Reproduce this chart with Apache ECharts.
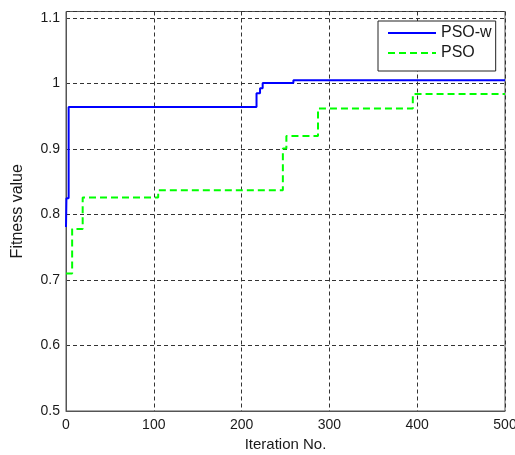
<!DOCTYPE html>
<html>
<head>
<meta charset="utf-8">
<script src="https://cdn.jsdelivr.net/npm/echarts@6/dist/echarts.min.js"></script>
<style>
html,body{margin:0;padding:0;background:#fff;}
#chart{width:515px;height:455px;}
</style>
</head>
<body>
<div id="chart"></div>
<script>
// Data
const seriesNames = ['PSO-w', 'PSO'];
const psoWIter = [0, 0.5, 3, 217, 221, 224, 259, 500];
const psoWFit  = [0.781, 0.825, 0.964, 0.985, 0.993, 1.001, 1.005, 1.005];
const psoIter  = [0, 7, 19, 105, 247, 251, 287, 395, 500];
const psoFit   = [0.710, 0.778, 0.826, 0.837, 0.901, 0.920, 0.962, 0.984, 0.984];
const xTicks = ['0', '100', '200', '300', '400', '500'];
const yTicks = ['0.5', '0.6', '0.7', '0.8', '0.9', '1', '1.1'];

const pairs = (xs, ys) => xs.map((x, i) => [x, ys[i]]);
const fontFam = '"Liberation Sans", Arial, Helvetica, sans-serif';
const txtColor = '#1a1a1a';
const gridLine = {show: true, lineStyle: {color: '#333', width: 1, type: [4, 3]}};

const chart = echarts.init(document.getElementById('chart'), null, {renderer: 'canvas'});
chart.setOption({
  animation: false,
  backgroundColor: '#fff',
  textStyle: {fontFamily: fontFam},
  grid: {left: 66, right: 10, top: 11.5, bottom: 44, containLabel: false, outerBoundsMode: 'none',
    show: true, borderColor: '#555', borderWidth: 1, backgroundColor: 'transparent'},
  legend: {
    orient: 'vertical',
    left: 378, top: 21,
    padding: [4, 4, 10, 9],
    itemWidth: 48, itemHeight: 16, itemGap: 4,
    backgroundColor: '#fff',
    borderColor: '#222', borderWidth: 1,
    itemStyle: {opacity: 0, borderWidth: 0},
    textStyle: {fontSize: 16, color: txtColor, fontFamily: fontFam},
    data: seriesNames
  },
  xAxis: {
    type: 'value', min: 0, max: 500, interval: 100,
    name: 'Iteration No.', nameLocation: 'middle', nameGap: 26,
    nameTextStyle: {fontSize: 15, color: txtColor, fontFamily: fontFam},
    axisLine: {show: true, lineStyle: {color: '#555', width: 1}},
    axisTick: {show: false},
    axisLabel: {fontSize: 14, color: txtColor, margin: 7, fontFamily: fontFam,
      formatter: v => { const s = String(Math.round(v)); return xTicks.indexOf(s) >= 0 ? s : ''; }},
    splitLine: gridLine
  },
  yAxis: {
    type: 'value', min: 0.5, max: 1.11, interval: 0.1,
    name: 'Fitness value', nameLocation: 'middle', nameGap: 40, nameRotate: 90,
    nameTextStyle: {fontSize: 16, color: txtColor, fontFamily: fontFam},
    axisLine: {show: true, lineStyle: {color: '#555', width: 1}},
    axisTick: {show: false},
    axisLabel: {fontSize: 14, color: txtColor, margin: 6, fontFamily: fontFam,
      formatter: v => { const s = String(Math.round(v * 10) / 10); return (Math.abs(v * 10 - Math.round(v * 10)) < 1e-6 && yTicks.indexOf(s) >= 0) ? s : ''; }},
    splitLine: {show: true, lineStyle: {color: '#333', width: 1, type: [4, 3]}}
  },
  series: [
    {
      name: seriesNames[0], type: 'line', step: 'end', symbol: 'none', clip: true,
      data: pairs(psoWIter, psoWFit),
      lineStyle: {color: '#0000ff', width: 2},
      itemStyle: {color: '#0000ff'},
      z: 3
    },
    {
      name: seriesNames[1], type: 'line', step: 'end', symbol: 'none', clip: true,
      data: pairs(psoIter, psoFit),
      lineStyle: {color: '#00ff00', width: 2, type: [7, 4]},
      itemStyle: {color: '#00ff00'},
      z: 2
    }
  ]
});
</script>
</body>
</html>
